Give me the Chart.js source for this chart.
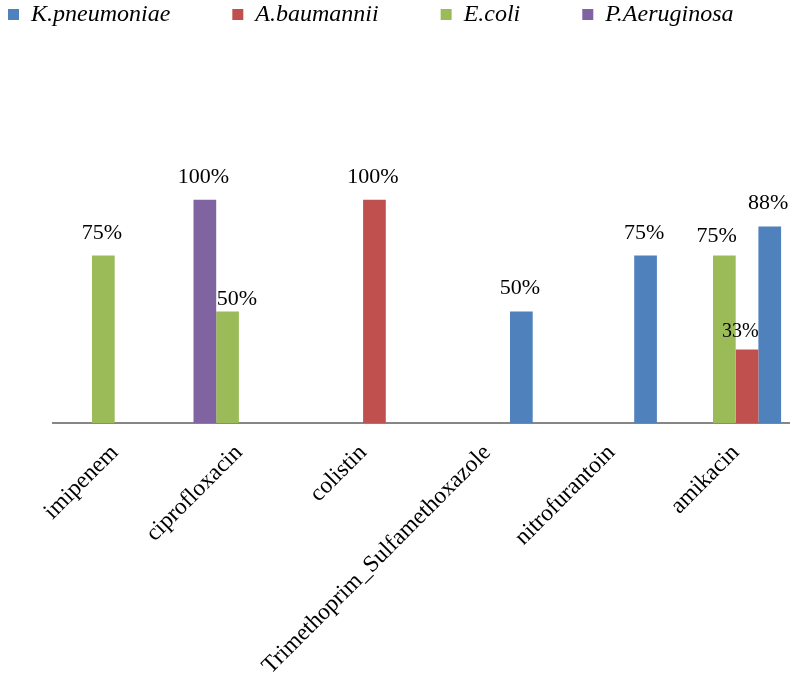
<!DOCTYPE html>
<html>
<head>
<meta charset="utf-8">
<script src="https://cdn.jsdelivr.net/npm/chart.js@4/dist/chart.umd.min.js"></script>
<style>
  html, body { margin: 0; padding: 0; background: #fff; overflow: hidden; }
  #wrap { width: 800px; height: 676px; }
</style>
</head>
<body>
<div id="wrap"><canvas id="c" width="800" height="676"></canvas></div>
<script>
// ---- data ----
const categories = ["imipenem", "ciprofloxacin", "colistin", "Trimethoprim_Sulfamethoxazole", "nitrofurantoin", "amikacin"];
const pAeruginosa = [null, 100, null, null, null, null];
const eColi       = [75, 50, null, null, null, 75];
const aBaumannii  = [null, null, 100, null, null, 33];
const kPneumoniae = [null, null, null, 50, 75, 88];

// ---- styles ----
const COLORS = { K: "#4F81BD", A: "#C0504D", E: "#9BBB59", P: "#8064A2" };
const SERIF = "'Liberation Serif', 'Times New Roman', serif";
// per-label nudges (dataset label | category index) -> px offsets, font size
const labelNudges = {
  "E.coli|1": { dx: 9.3, dy: -6, size: 22 },
  "E.coli|5": { dx: -7.6, dy: -13.3, size: 22 },
  "A.baumannii|5": { dx: -6.7, dy: -12.6, size: 20 }
};

const valueLabels = {
  id: "valueLabels",
  afterDatasetsDraw(chart) {
    const ctx = chart.ctx;
    ctx.save();
    ctx.fillStyle = "#000";
    ctx.textAlign = "center";
    ctx.textBaseline = "alphabetic";
    chart.data.datasets.forEach((ds, di) => {
      const meta = chart.getDatasetMeta(di);
      meta.data.forEach((bar, i) => {
        const v = ds.data[i];
        if (v === null || v === undefined) return;
        const n = labelNudges[ds.label + "|" + i] || { dx: -1.5, dy: -17, size: 22 };
        ctx.font = n.size + "px " + SERIF;
        ctx.fillText(v + "%", bar.x + n.dx, bar.y + n.dy);
      });
    });
    ctx.restore();
  }
};

new Chart(document.getElementById("c"), {
  type: "bar",
  data: {
    labels: categories,
    datasets: [
      { label: "P.Aeruginosa", data: pAeruginosa, backgroundColor: COLORS.P },
      { label: "E.coli", data: eColi, backgroundColor: COLORS.E },
      { label: "A.baumannii", data: aBaumannii, backgroundColor: COLORS.A },
      { label: "K.pneumoniae", data: kPneumoniae, backgroundColor: COLORS.K }
    ]
  },
  options: {
    responsive: false,
    animation: false,
    layout: { padding: { left: -54, top: -59.5, right: 2.2, bottom: -12 } },
    datasets: { bar: { barPercentage: 1, categoryPercentage: 0.731, borderWidth: 0 } },
    plugins: {
      tooltip: { enabled: false },
      legend: {
        position: "top",
        align: "start",
        reverse: true,
        labels: {
          boxWidth: 11,
          boxHeight: 11,
          padding: 62,
          color: "#000",
          font: { family: SERIF, size: 24, style: "italic" }
        }
      }
    },
    scales: {
      x: {
        grid: { display: false },
        border: { display: true, color: "#868686", width: 2 },
        ticks: {
          color: "#000",
          autoSkip: false,
          minRotation: 45,
          maxRotation: 45,
          padding: 8,
          font: { family: SERIF, size: 23.5 }
        }
      },
      y: {
        min: 0,
        max: 173,
        grid: { display: false },
        border: { display: false },
        ticks: { display: false },
        afterFit(scale) { scale.width = 106.6; }
      }
    }
  },
  plugins: [valueLabels]
});
</script>
</body>
</html>
